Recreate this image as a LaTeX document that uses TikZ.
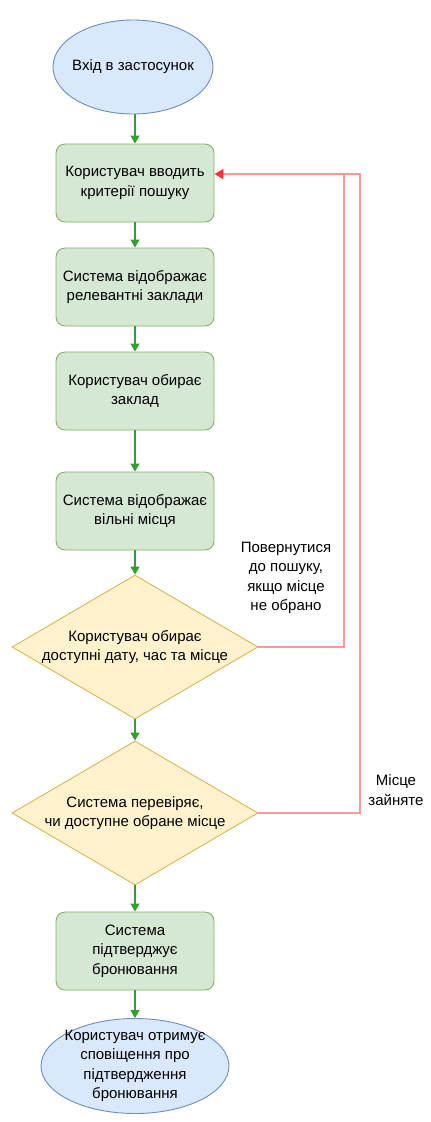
\documentclass[tikz,border=0pt]{standalone}
\usepackage{fontspec}
\setmainfont{Liberation Sans}
\usetikzlibrary{shapes.geometric,arrows.meta}
\definecolor{gfill}{HTML}{D5E8D4}
\definecolor{gdraw}{HTML}{82B366}
\definecolor{bfill}{HTML}{DAE8FC}
\definecolor{bdraw}{HTML}{6C8EBF}
\definecolor{yfill}{HTML}{FFF2CC}
\definecolor{ydraw}{HTML}{D6B656}
\definecolor{garrow}{HTML}{33A02C}
\definecolor{rline}{HTML}{FF9999}
\definecolor{rarrow}{HTML}{FF3333}
\begin{document}
\begin{tikzpicture}[x=1pt,y=-1pt,
  every node/.style={font=\fontsize{15}{19.5}\selectfont, align=center},
  procbox/.style={draw=gdraw, fill=gfill, rounded corners=9pt, minimum width=158pt, minimum height=78pt, line width=0.9pt},
  termnode/.style={draw=bdraw, fill=bfill, ellipse, line width=0.9pt, inner xsep=-8pt, inner ysep=-4pt},
  decnode/.style={draw=ydraw, fill=yfill, diamond, aspect=1.7, line width=0.9pt, inner sep=0pt, minimum width=246pt, minimum height=144pt},
  flow/.style={draw=garrow, line width=1.2pt, -{Triangle[length=8pt,width=9pt]}},
  back/.style={draw=rline, line width=1.8pt},
  backarrow/.style={draw=rline, line width=1.8pt, -{Triangle[length=9pt,width=10pt,color=rarrow]}},
  lbl/.style={font=\fontsize{15}{19.5}\selectfont}
]
\useasboundingbox (0,0) rectangle (431,1122);
\node[termnode, minimum width=160pt, minimum height=94pt] (start) at (133,67) {Вхід в застосунок};
\node[procbox] (b1) at (135,183) {Користувач вводить\\критерії пошуку};
\node[procbox] (b2) at (135,287) {Система відображає\\релевантні заклади};
\node[procbox] (b3) at (135,391) {Користувач обирає\\заклад};
\node[procbox] (b4) at (135,511) {Система відображає\\вільні місця};
\node[decnode] (d1) at (135,647) {Користувач обирає\\доступні дату, час та місце};
\node[decnode] (d2) at (135,813) {Система перевіряє,\\чи доступне обране місце};
\node[procbox] (b5) at (135,951) {Система\\підтверджує\\бронювання};
\node[termnode, minimum width=188pt, minimum height=95pt] (end) at (135,1066) {Користувач отримує\\сповіщення про\\підтвердження\\бронювання};

\draw[flow] (start.south -| b1.north) -- (b1.north);
\draw[flow] (b1) -- (b2);
\draw[flow] (b2) -- (b3);
\draw[flow] (b3) -- (b4);
\draw[flow] (b4) -- (d1);
\draw[flow] (d1) -- (d2);
\draw[flow] (d2) -- (b5);
\draw[flow] (b5) -- (end);

\coordinate (t1) at (344,647);
\coordinate (t2) at (344,174);
\coordinate (u1) at (360,813);
\coordinate (u2) at (360,174);
\coordinate (hit) at (b1.east |- t2);
\draw[back] (d1.east) -- (t1) -- (t2);
\draw[back] (d2.east) -- (u1) -- (u2) -- (t2);
\draw[backarrow] (t2) -- (hit);

\node[lbl] (l1) at (286,578) {Повернутися\\до пошуку,\\якщо місце\\не обрано};
\node[lbl] (l2) at (396,790) {Місце\\зайняте};
\end{tikzpicture}
\end{document}
